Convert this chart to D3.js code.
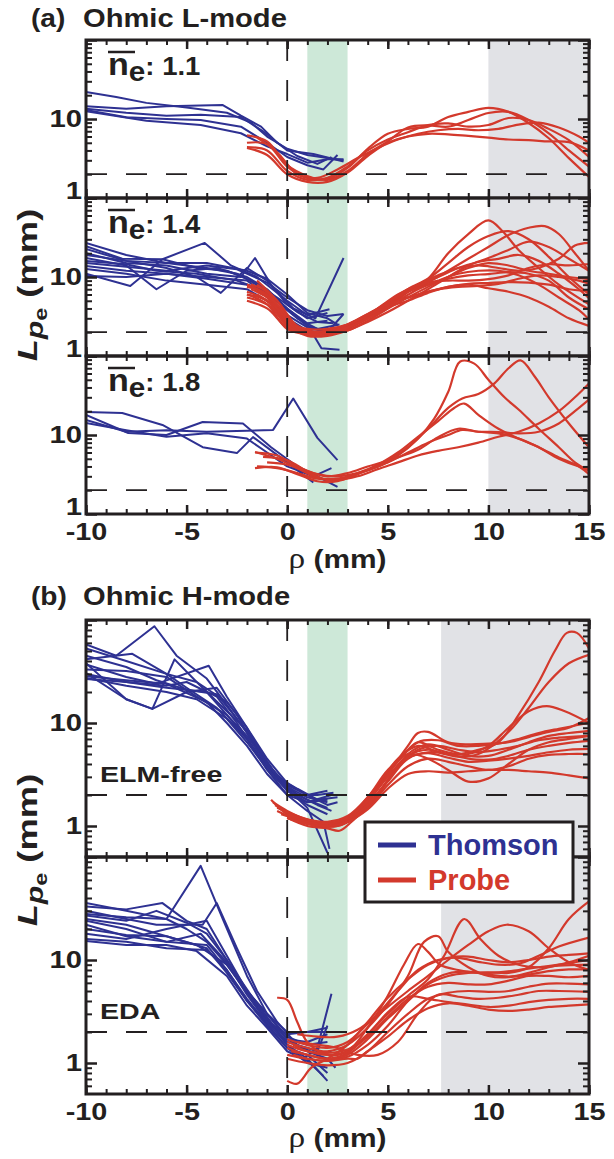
<!DOCTYPE html>
<html>
<head>
<meta charset="utf-8">
<script src="https://cdn.jsdelivr.net/npm/d3@7"></script>
<style>
    body { margin: 0; background: #fff; }
    svg text { font-family: "Liberation Sans", Arial, sans-serif; font-weight: bold; fill: #231f20; }
</style>
</head>
<body>
<div id="chart"></div>
<script>

/* ---------- data: each curve is a list of [rho (mm), Lpe (mm)] ---------- */

const xTicks = [-10, -5, 0, 5, 10, 15]
const greenBand = [1, 3]
const grayStartA = 10
const grayStartB = 7.65
const refLevel = 2
const densities = ['1.1', '1.4', '1.8']
const modesB = ['ELM-free', 'EDA']
const legendLabels = ['Thomson', 'Probe']

// (a) Ohmic L-mode, ne = 1.1
const a1Thomson = [
    [[-10,22],[-8.5,19],[-7,16],[-5,14],[-3,12],[-1.8,9],[-1,6],[0,4.2],[1,3.5],[2,3.2],[2.8,3]],
    [[-10,14.5],[-8,13.5],[-6,14.5],[-3.2,15],[-2.3,11],[-1.3,8],[-0.5,5],[0.5,3.4],[1.5,2.7],[2.2,3.3]],
    [[-10,13.5],[-8,12],[-6,11],[-4.3,11.3],[-2.3,10.6],[-1.2,7],[0,4],[1.3,3.6],[2.8,2.9]],
    [[-10,13],[-8,10.5],[-6,10],[-4.3,9.7],[-2.3,8],[-1,5],[0,3.3],[1,2.6],[1.8,2.3],[2.5,3.5]],
    [[-10,12.5],[-7,9.5],[-4.3,8.4],[-2.3,6.6],[-1,4.5],[0,3.6],[1,2.8],[2,3.1],[2.8,3.1]]
]
const a1Probe = [
    [[-2,6.2],[-1,5.2],[0,2.6],[1,1.9],[2,1.7],[3,2.2],[4,3.6],[5,5.2],[6,7.8],[7,8.3],[8,8],[9,9.7],[10,11.9],[11,12.3],[12,9.7],[13,6.6],[14,4],[15,2.5]],
    [[-2,5],[-1,4.8],[0,2.5],[1,1.8],[2,1.75],[3,2.4],[4,4.2],[5,6.5],[6,7.5],[7,8],[8,10.6],[9,12.3],[10,13.8],[11,12.3],[12,8.9],[13,5.7],[14,3.2],[15,1.85]],
    [[-2,4.4],[-1,4],[0,2.2],[1,1.7],[2,1.8],[3,2.5],[4,4],[5,5.5],[6,6.8],[7,8.4],[8,8.8],[9,8],[10,8.4],[11,10.3],[12,9.7],[13,7.5],[14,5.4],[15,3.3]],
    [[-1.5,5.8],[-0.5,3.8],[0.5,2],[1.5,1.8],[2.5,2.3],[3.5,3.2],[4.5,4.3],[5.5,5.5],[6.5,6.5],[7.5,7.2],[8.5,7.5],[9.5,7.2],[10.5,7.5],[11.5,8.5],[12.5,9],[13.5,7.8],[14.5,6],[15,5]],
    [[-2,4.3],[-1,3.5],[0,2],[1,1.6],[2,1.6],[3,2.1],[4,3.4],[5,5],[6,6],[7,6.5],[8,6.4],[9,6.1],[10,5.8],[11,5.5],[12,5.4],[13,5.2],[14,5.1],[15,4]]
]

// (a) ne = 1.4
const a2Thomson = [
    [[-10,27],[-8,19],[-6,15],[-4,13],[-2.5,11],[-1.5,8],[-0.5,5.5],[0.5,3.6],[1.5,2.7],[2.3,2.6]],
    [[-10,24.6],[-8.2,17],[-6.2,16.8],[-4.1,27],[-2.8,14],[-1.5,10],[0,5],[1,3.3],[2.1,3.9]],
    [[-10,11],[-7.8,7.7],[-6.2,16.8],[-4.5,13],[-3,12],[-1.8,9],[-0.5,5],[0.5,3],[1.5,2.2],[2.6,2.5]],
    [[-10,17.4],[-8,14],[-6.5,7],[-5,12],[-3.5,13],[-2,10],[-1,7],[0,4],[1,2.5],[1.7,1.25],[2.6,1.2]],
    [[-10,22.6],[-8,16],[-6,13],[-4.5,10],[-3.3,6.3],[-2,13],[-1,9],[0,4.5],[1,3],[2,3.5]],
    [[-10,20],[-8,15],[-6,14],[-4,11],[-2.3,10],[-1.6,17.4],[-0.8,8],[0.3,4],[1.4,3],[2.8,17.4]],
    [[-10,13.8],[-8,12],[-6,11],[-4,10],[-2,9],[-1,6],[0,3.3],[1,2.3],[2,2],[2.8,3.4]],
    [[-10,12.6],[-8,11],[-6,9],[-4,8],[-2,7],[-1,5],[0,3],[1,2.1],[2,1.9]],
    [[-10,10.3],[-8,10],[-6,11],[-4,9.5],[-2,8],[-1,6],[0,4],[1,2.6],[2,2.8]],
    [[-10,15],[-8,13.5],[-6,12],[-4,14],[-2.5,12.5],[-1,8.5],[0,5.5],[1,3.8],[2,3.2],[2.8,3.4]],
    [[-10,19],[-8,16],[-6,15],[-4,15],[-2,12],[-1,9.5],[0,6],[1,3.5],[2,3],[2.5,2.5]],
    [[-10,16],[-8,14.5],[-6.5,12],[-4.5,11],[-2.5,9],[-1,6.5],[0,3.8],[1,2.4],[1.8,2.1]]
]
const a2Probe = [
    [[-2,8],[-1,6],[0,3],[1,2],[2,1.9],[3,2.1],[4,2.8],[5,4],[6,6.5],[7,9.5],[8,20],[9,35],[10,52],[10.7,38],[11.5,22],[12.5,13],[13.5,8],[15,4.5]],
    [[-1.8,7],[-1,5.5],[0,2.8],[1,2],[2,2],[3,2.3],[4,3],[5,4.5],[6,7],[7,9.5],[8,15],[9,24],[10,33],[11,38],[12,30],[13,18],[14,10],[15,6]],
    [[-2,6],[-1,5],[0,2.6],[1,1.9],[2,1.9],[3,2.2],[4,3],[5,4.4],[6,6.5],[7,8.5],[8,12],[9,17],[10,24],[11,34],[12,42],[12.8,44],[13.5,35],[14.3,20],[15,12]],
    [[-1.5,8],[-0.5,5],[0.5,2.4],[1.5,2],[2.5,2.1],[3.5,2.7],[4.5,3.7],[5.5,5.5],[6.5,8],[7.5,10.5],[8.5,13],[9.5,14],[10.5,13],[11.5,12],[12.5,13],[13.5,17],[14.3,25],[15,27]],
    [[-2,7.5],[-1,6],[0,2.5],[1,1.8],[2,1.8],[3,2.1],[4,2.7],[5,3.6],[6,5],[7,7],[8,10],[9,14],[10,17.4],[11,22],[12,28],[13,24],[14,17],[15,12]],
    [[-1.5,9],[-0.5,5],[0.5,2.3],[1.5,1.8],[2.5,2],[3.5,2.7],[4.5,4],[5.5,6],[6.5,8],[7.5,10],[8.5,13],[9.5,15.5],[10.5,17],[11.5,19],[12.5,16],[13.5,11],[14.5,7],[15,5.4]],
    [[-2,6],[-1,4.5],[0,2.2],[1,1.9],[2,2],[3,2.4],[4,3.3],[5,4.8],[6,6.5],[7,8],[8,9.5],[9,10.5],[10,10.9],[11,11.5],[12,11],[13,9],[14,5.5],[15,3.9]],
    [[-1.8,8],[-1,6.5],[0,3],[1,2.1],[2,2],[3,2.3],[4,3.1],[5,4.8],[6,7],[7,8.5],[8,9],[9,9],[10,9.4],[11,10.5],[12,13],[13,14.5],[14,14],[15,14.6]],
    [[-2,5],[-1,4],[0,2.3],[1,2],[2,2.1],[3,2.5],[4,3.4],[5,4.6],[6,5.5],[7,6.5],[8,7.5],[9,8.2],[10,8.4],[11,8.6],[12,8.5],[13,8],[14,7],[15,6.6]],
    [[-1.5,7],[-0.5,4.5],[0.5,2.2],[1.5,1.9],[2.5,2.2],[3.5,2.9],[4.5,3.9],[5.5,5],[6.5,6],[7.5,7],[8.5,7.5],[9.5,7.7],[10.5,8.2],[11.5,9.5],[12.5,10.5],[13.5,10],[14.5,9],[15,8.2]],
    [[-2,5.5],[-1,4.5],[0,2.6],[1,2.2],[2,2.2],[3,2.5],[4,3.2],[5,4.2],[6,5],[7,6.3],[8,7.5],[9,8],[10,7.2],[11,6.5],[12,5.5],[13,4.2],[14,3],[15,2.4]],
    [[-1.5,6],[-0.5,4],[0.5,2.1],[1.5,1.8],[2.5,2],[3.5,2.6],[4.5,3.5],[5.5,5],[6.5,7],[7.5,9],[8.5,11],[9.5,12],[10.5,12],[11.5,10.5],[12.5,8],[13.5,5.5],[14.5,3.8],[15,2.9]],
    [[-2,6.5],[-1,5],[0,2.4],[1,1.9],[2,1.95],[3,2.3],[4,3],[5,4],[6,5.5],[7,7.5],[8,10],[9,13],[10,15],[11,14],[12,12],[13,11],[14,10],[15,9.4]]
]

// (a) ne = 1.8
const a3Thomson = [
    [[-10,19.5],[-8.2,19],[-6.2,13.4],[-4.2,7],[-2.5,5.9],[-1.7,9.4],[0,4.5],[1.3,2.5]],
    [[-10,18],[-7.9,10.6],[-6,10],[-4.2,14.6],[-2.2,14],[-0.8,7],[0.5,4],[1.5,3],[2.5,2.2]],
    [[-10,15.5],[-8,11],[-6,11.5],[-4,11],[-2,11.3],[-0.7,11.6],[0.3,29],[1.5,9.2],[2.5,4.8]],
    [[-10,14.2],[-8,11.5],[-6,9.5],[-4,10.5],[-2,9],[-1,6],[0,4],[1.3,3],[2.2,3.8]]
]
const a3Probe = [
    [[-1.6,6],[-0.5,5.5],[0.5,4],[1.5,3.2],[2.5,3],[3.5,3.3],[4.5,4],[5.5,5.5],[6.5,9],[7.3,16],[8,35],[8.6,85],[9.3,80],[10,50],[10.8,30],[11.5,21],[12.5,12],[13.5,7],[14.3,4.5],[15,3.5]],
    [[-1.2,5.3],[0,4.8],[1,3.5],[2,3],[3,3.3],[4,4],[5,4.8],[6,7],[7,12],[8,22],[8.7,29],[9.5,33],[10.3,45],[11,70],[11.6,88],[12.3,55],[13,30],[14,14],[15,7]],
    [[-1.5,4],[-0.5,3.8],[0.5,3.3],[1.5,2.8],[2.5,2.7],[3.5,3],[4.5,3.7],[5.5,4.5],[6.5,5.5],[7.5,6.3],[8.5,7],[9.5,8],[10.5,9.5],[11.5,11],[12.5,14],[13.5,20],[14.3,30],[15,45]],
    [[-1.6,6.1],[-0.5,5],[0.5,3.8],[1.5,2.9],[2.5,2.8],[3.5,3.3],[4.5,4.2],[5.5,6],[6.5,9.5],[7.5,15],[8.3,22],[8.8,25],[9.5,18],[10.5,12],[11.5,9],[12.5,7],[13.5,5],[14.5,4],[15,3.8]],
    [[-1,4.5],[0,4.2],[1,3.4],[2,2.7],[3,2.9],[4,3.6],[5,4.5],[6,6],[7,8],[8,10],[8.7,11.6],[9.5,11],[10.5,10.9],[11.5,10.5],[12.5,11],[13.5,14],[14.3,20],[15,28]],
    [[-1.6,3.8],[-0.5,3.9],[0.5,3.2],[1.5,2.6],[2.5,2.6],[3.5,3.2],[4.5,4],[5.5,5.2],[6.5,6.5],[7.5,9.4],[8.5,12],[9.5,11],[10.5,10.5],[11.5,9],[12.5,7],[13.5,5.2],[14.5,4],[15,3.2]]
]

// (b) Ohmic H-mode, ELM-free
const b1Thomson = [
    [[-10,58],[-8.5,45],[-6.6,87],[-5.5,45],[-4,27],[-3,15],[-2,8],[-1,4],[0,2.5],[1,2],[2,1.6],[2.5,1.7]],
    [[-10,53],[-8,40],[-6,30],[-4.5,25],[-3,16],[-2,9],[-1,4.5],[0,2.6],[1,2],[2,2.2]],
    [[-10,41.6],[-7.7,47],[-6,30],[-5,22],[-3.5,14],[-2,7],[-1,3.8],[0,2.3],[1,1.8],[2,1.5]],
    [[-10,38],[-8,17],[-6.7,13.7],[-5.6,41.5],[-4.5,25],[-3,13],[-2,8.5],[-1,4.2],[0,2.3],[1,1.5],[2,0.55]],
    [[-10,37],[-8,28],[-6.5,24],[-3.9,36],[-3,18],[-2,9],[-1,4],[0,2.2],[1,1.7],[2.2,2]],
    [[-10,30.6],[-8,17],[-6.7,13.7],[-5,20],[-3.5,22],[-2.5,12],[-1.5,5.5],[-0.5,3],[0.5,2],[1.5,1.6],[2.2,1.4]],
    [[-10,29.9],[-8,25],[-6,22],[-4,20],[-3,12],[-2,7],[-1,3.5],[0,2],[1,1.4],[1.8,1.1],[2.1,0.6]],
    [[-10,28.5],[-8,26],[-6,24],[-4,16],[-3,10],[-2,6],[-1,3.2],[0,2],[1,1.7],[2,1.8]],
    [[-10,27.3],[-8,23],[-6,20],[-4.5,17],[-3,11],[-2,6.5],[-1,3.6],[0,2.2],[1,1.6],[2,1.3]],
    [[-10,26.7],[-8,25],[-6,23],[-5,25],[-3.5,18],[-2.5,10],[-1.5,5],[-0.5,2.8],[0.5,2],[1.5,2],[2.3,2.1]],
    [[-10,45],[-8,35],[-6.5,26],[-5,21],[-3.5,19],[-2.5,11],[-1.5,6],[-0.5,3],[0.5,2.3],[1.5,1.8],[2.5,1.9]],
    [[-10,33],[-8,32],[-6,28],[-4.5,18],[-3,12],[-2,7.5],[-1,4],[0,2.4],[1,1.9],[2,1.7]]
]
const b1Probe = [
    [[-0.7,1.7],[0,1.4],[1,1.15],[2,1.05],[3,1.2],[4,1.9],[5,3.3],[6,5.5],[6.5,6.5],[7.5,5.5],[8.5,5],[9.5,5.5],[10.5,6.5],[11.5,12],[12.5,25],[13.3,50],[13.9,75],[14.4,75],[15,53]],
    [[-0.5,1.5],[0.5,1.25],[1.5,1.1],[2.5,1.1],[3.5,1.4],[4.5,2.4],[5.5,4.5],[6.5,6],[7.5,5.2],[8.5,4.7],[9.5,5],[10.5,6.7],[11.2,9],[12,14],[13,25],[14,38],[15,46]],
    [[0,1.3],[1,1.15],[2,1.05],[3,1.2],[4,1.8],[5,3],[6,4.8],[7,5.5],[8,5],[9,5],[10,6],[11,9],[12,13],[12.9,14.6],[13.8,13],[15,10]],
    [[-0.8,1.8],[0,1.3],[1,1.1],[2,1.0],[3,1.15],[4,1.7],[5,3.2],[6,6],[6.5,8],[7,8.2],[8,6.5],[9,6.2],[10,6.3],[11,6.5],[12,7.3],[13,8.2],[14,9],[15,11.2]],
    [[-0.6,1.6],[0.5,1.2],[1.5,1.05],[2.5,1.0],[3.5,1.3],[4.5,2.3],[5.5,4.2],[6.5,6.5],[7.5,6.8],[8.5,6],[9.5,6],[10.5,6.3],[11.5,7],[12.5,8],[13.5,8.8],[15,10]],
    [[0,1.2],[1,1.0],[2,0.95],[2.6,0.9],[3.2,1.1],[4,1.6],[5,2.8],[6,5],[7,6.2],[8,5.5],[9,4.8],[10,4.8],[11,5.5],[12,6.5],[13,7.5],[14,8],[15,8.4]],
    [[-0.5,1.4],[0.5,1.15],[1.5,1.0],[2.5,1.0],[3.5,1.25],[4.5,2],[5.5,3.8],[6.5,5.5],[7.5,6],[8.5,5.5],[9.5,5.2],[10.5,5.5],[11.5,6],[12.5,6.8],[13.5,7.2],[15,7.5]],
    [[0,1.2],[1,1.05],[2,1.0],[3,1.15],[4,1.6],[5,2.7],[6,4.5],[7,5.2],[8,5],[9,4.5],[10,4.4],[11,4.8],[12,5.5],[13,6],[14,6.4],[15,6.7]],
    [[-0.3,1.3],[1,1.1],[2,1.05],[3,1.2],[4,1.75],[5,3],[6,4.6],[7,5.1],[8,4.6],[9,4.2],[10,4.3],[11,4.5],[12,4.8],[13,5.2],[14,5.5],[15,5.6]],
    [[0,1.25],[1,1.1],[2,1.0],[3,1.1],[4,1.5],[5,2.5],[6,3.8],[7,4.5],[8,4.2],[9,3.8],[10,3.5],[11,3.8],[12,4.5],[13,4.9],[14,5],[15,5]],
    [[0,1.2],[1,1.05],[2,1.0],[3,1.1],[4,1.45],[5,2.3],[6,3.2],[7,3.4],[8,3.3],[9,3.4],[10,3.5],[11,3.5],[12,3.4],[13,3.3],[14,3.1],[15,2.9]],
    [[0,1.3],[1,1.15],[2,1.1],[3,1.25],[4,1.9],[5,3.5],[6,5],[7,4.5],[8,3.5],[9,2.7],[10,2.9],[11,4],[12,5.5],[13,6.5],[14,7],[15,7.5]]
]

// (b) EDA
const b2Thomson = [
    [[-10,35.7],[-8,30],[-6,25],[-4.3,82],[-3.2,25],[-2,7],[-1,3],[0,1.7],[1,1.3],[2,1.1],[2.4,0.9]],
    [[-10,33],[-8,31],[-6.2,35.7],[-5,24],[-4,20],[-3,10],[-2,5],[-1,3],[0,1.8],[1,1.5],[2,1.6]],
    [[-10,30],[-8,25],[-6.5,22],[-4.2,22],[-3.5,35.7],[-2.5,13],[-1.5,5],[-0.5,2.5],[0.5,1.5],[1.5,1.2],[2.2,1.3]],
    [[-10,28],[-8,26],[-6,25],[-5,20],[-4,15],[-3,9],[-2,5],[-1,2.8],[0,1.5],[1,1.1],[2,0.67]],
    [[-10,25],[-8,22],[-6,17],[-4.5,14],[-3,9],[-2,4.8],[-1,2.6],[0,1.6],[1,1.4],[1.5,1.3],[2,2.3]],
    [[-10,22],[-8,17],[-6,15],[-4,14],[-3,8],[-2,4.2],[-1,2.4],[0,1.4],[1,1.2],[2,0.8]],
    [[-10,20],[-8,17.5],[-6,17],[-4,13],[-3,7.5],[-2,4],[-1,2.5],[0,1.9],[1,2],[2,2.2]],
    [[-10,18],[-8,16],[-6,20],[-4,24],[-3,11],[-2,5],[-1,3],[0,2],[1,2],[2.2,2]],
    [[-10,16],[-8,15],[-6,13],[-4,12.5],[-3,8],[-2,4],[-1,2.3],[0,1.4],[1,1],[2,0.9]],
    [[-10,15.3],[-8,14],[-6,14],[-4.5,12.2],[-3,7],[-2,3.6],[-1,2.2],[0,1.3],[1,1.05],[1.8,0.75]],
    [[-10,27],[-8,24],[-6.5,30],[-5,23],[-4,18],[-3,10],[-2,5.2],[-1,2.7],[0,1.7],[1,1.6],[2,1.9]],
    [[-10,24],[-8,20],[-6,15],[-4.3,18],[-3,9.5],[-2,4.6],[-1,2.5],[0,1.5],[0.8,1.1],[1.5,1.4],[2.2,4.7]]
]
const b2Probe = [
    [[-0.5,4.3],[0,4.1],[0.5,2.5],[1,1.6],[2,1.2],[3,1.3],[4,2.2],[5,4.5],[5.8,9],[6.5,14.3],[7,12],[7.6,9],[8.5,8],[9.5,7.5],[10.5,7.6],[11.5,8],[12.5,8.5],[13.5,9],[15,10]],
    [[0,1.6],[1,1.4],[2,1.3],[3,1.5],[4,2.2],[5,3.7],[6,7],[6.8,15],[7.5,17],[8,12],[9,8.5],[10,7],[11,6.8],[12,7.5],[13,8.5],[14,9.5],[15,11]],
    [[0.2,1.3],[1,1.2],[2,1.1],[3,1.25],[4,1.9],[5,3],[6,4.5],[7,6.5],[7.8,11],[8.8,25],[9.6,16],[10.5,11],[11.5,9],[12.5,8.5],[13.5,8.8],[15,9]],
    [[0,1.7],[1,1.5],[2,1.4],[3,1.6],[4,2.4],[5,3.5],[6,5],[7,7],[8,10],[9,14],[10,19],[10.9,22],[12,19],[13,13],[14,9.5],[15,8]],
    [[0,1.2],[1,1.1],[2,1.05],[3,1.2],[4,1.7],[5,2.7],[6,4],[7,5.8],[8,7],[9,7.5],[10,7.6],[11,7.5],[12,8.5],[13,13],[14,25],[15,37]],
    [[0.5,1.9],[1.5,1.8],[2.5,1.8],[3.5,2.1],[4.5,3],[5.5,5],[6.5,8],[7.5,10],[8.5,10.5],[9.5,9.6],[10.5,9],[11.5,9.2],[12.5,11],[13.5,13.5],[15,16.5]],
    [[0,0.67],[0.5,0.63],[1.2,0.9],[2,1.1],[3,1.5],[4,2.5],[5,4.3],[6,6.5],[7,9],[8,10.5],[9,10.8],[10,10],[11,9.5],[12,10],[13,10.8],[14,11.2],[15,11.6]],
    [[0,1.4],[1,1.2],[2,1.1],[3,1.15],[4,1.5],[5,2.3],[6,4],[7,6],[8,7.4],[9,7.7],[10,7.2],[11,6.9],[12,7.2],[13,7.8],[14,8.1],[15,8.1]],
    [[0.3,1.5],[1,1.3],[2,1.2],[3,1.3],[4,1.8],[5,2.8],[6,4.2],[7,5.5],[8,6],[9,5.8],[10,5.8],[11,6.3],[12,7],[13,7],[14,6.8],[15,7]],
    [[0,1.1],[1,1.0],[2,0.95],[3,1.0],[4,1.3],[5,2.0],[6,3],[7,4.2],[8,4.8],[9,5],[10,4.9],[11,5],[12,5.5],[13,5.9],[14,5.9],[15,5.8]],
    [[0.5,1.6],[1.5,1.5],[2.5,1.4],[3.5,1.2],[4.5,1.2],[5.5,1.6],[6.5,3],[7.5,4.6],[8.5,4.4],[9.5,4.2],[10.5,4.3],[11.5,4.6],[12.5,5],[13.5,5],[15,4.9]],
    [[0,1.5],[1,1.3],[2,1.25],[3,1.35],[4,1.9],[5,3.1],[6,4.4],[7,4.2],[8,3.9],[9,3.7],[10,3.5],[11,3.6],[12,3.9],[13,4.1],[14,4.2],[15,4.2]],
    [[0.3,1.2],[1,1.1],[2,1.05],[3,1.1],[3.5,1.1],[4,1.3],[5,1.8],[6,2.6],[7,3.4],[8,3.8],[9,3.6],[10,3.3],[11,3.2],[12,3.3],[13,3.5],[14,3.6],[15,3.7]]
]


/* ---------- drawing ---------- */

const BLUE = '#2e3192', RED = '#d3392c', INK = '#231f20'
const GREEN_FILL = '#cde8d8', GRAY_FILL = '#e1e2e6'

let svg = d3.select('#chart').append('svg')
    .attr('width', 614)
    .attr('height', 1159)

let x = d3.scaleLinear().domain([-10, 15]).range([86, 589])

// stretch bold text horizontally, the original lettering is wide
function widen(sel, k) {
    sel.each(function () {
        let len = this.getComputedTextLength()
        d3.select(this).attr('textLength', len * k).attr('lengthAdjust', 'spacingAndGlyphs')
    })
}

function logMinor(domain) {
    let out = []
    for (let e = -1; e <= 2; e++) {
        for (let k = 2; k <= 9; k++) {
            let v = k * Math.pow(10, e)
            if (v > domain[0] && v < domain[1]) out.push(v)
        }
    }
    return out
}

function drawPanel(cfg) {
    let y = d3.scaleLog().domain(cfg.domain).range([cfg.bottom, cfg.top])
    let g = svg.append('g').attr('class', 'panel-' + cfg.name)

    svg.append('clipPath').attr('id', 'clip-' + cfg.name)
        .append('rect')
        .attr('x', x(-10)).attr('y', cfg.top)
        .attr('width', x(15) - x(-10)).attr('height', cfg.bottom - cfg.top)

    let plot = g.append('g').attr('clip-path', `url(#clip-${cfg.name})`)

    // shaded regions
    plot.append('rect')
        .attr('x', x(greenBand[0])).attr('width', x(greenBand[1]) - x(greenBand[0]))
        .attr('y', cfg.top).attr('height', cfg.bottom - cfg.top)
        .attr('fill', GREEN_FILL)
    plot.append('rect')
        .attr('x', x(cfg.grayFrom)).attr('width', x(15) - x(cfg.grayFrom))
        .attr('y', cfg.top).attr('height', cfg.bottom - cfg.top)
        .attr('fill', GRAY_FILL)

    // profiles
    let straight = d3.line().x(d => x(d[0])).y(d => y(d[1]))
    let smooth = d3.line().x(d => x(d[0])).y(d => y(d[1])).curve(d3.curveCatmullRom.alpha(0.5))

    plot.selectAll('path.thomson').data(cfg.thomson).join('path')
        .attr('class', 'thomson')
        .attr('d', straight)
        .attr('fill', 'none').attr('stroke', BLUE).attr('stroke-width', 2)
        .attr('stroke-linejoin', 'round')

    plot.selectAll('path.probe').data(cfg.probe).join('path')
        .attr('class', 'probe')
        .attr('d', smooth)
        .attr('fill', 'none').attr('stroke', RED).attr('stroke-width', 2.2)
        .attr('stroke-linejoin', 'round')

    // dashed references
    plot.append('line')
        .attr('x1', x(-10)).attr('x2', x(15))
        .attr('y1', y(refLevel)).attr('y2', y(refLevel))
        .attr('stroke', INK).attr('stroke-width', 1.8).attr('stroke-dasharray', '21,19')
    plot.append('line')
        .attr('x1', x(0)).attr('x2', x(0))
        .attr('y1', cfg.top).attr('y2', cfg.bottom)
        .attr('stroke', INK).attr('stroke-width', 1.8).attr('stroke-dasharray', '21,19')

    // ticks
    let minorX = d3.range(-10, 16)
    let tickStyle = (sel, w) => {
        sel.select('.domain').remove()
        sel.selectAll('.tick line').attr('stroke', INK).attr('stroke-width', w)
    }

    g.append('g').attr('transform', `translate(0,${cfg.top})`)
        .call(d3.axisTop(x).tickValues(minorX).tickSize(-5).tickFormat(''))
        .call(s => tickStyle(s, 2))
    g.append('g').attr('transform', `translate(0,${cfg.top})`)
        .call(d3.axisTop(x).tickValues(xTicks).tickSize(-9).tickFormat(''))
        .call(s => tickStyle(s, 2.5))
    g.append('g').attr('transform', `translate(0,${cfg.bottom})`)
        .call(d3.axisBottom(x).tickValues(minorX).tickSize(-5).tickFormat(''))
        .call(s => tickStyle(s, 2))
    let xb = g.append('g').attr('transform', `translate(0,${cfg.bottom})`)
        .call(d3.axisBottom(x).tickValues(xTicks).tickSize(-9).tickPadding(9)
            .tickFormat(d => cfg.xLabels ? String(d) : ''))
        .call(s => tickStyle(s, 2.5))
    xb.selectAll('text').attr('font-size', 24).attr('fill', INK).call(widen, 1.2)

    let minorY = logMinor(cfg.domain)
    let majorY = [1, 10, 100].filter(v => v >= cfg.domain[0] && v <= cfg.domain[1])

    g.append('g').attr('transform', `translate(${x(-10)},0)`)
        .call(d3.axisLeft(y).tickValues(minorY).tickSize(-6).tickFormat(''))
        .call(s => tickStyle(s, 2))
    let yl = g.append('g').attr('transform', `translate(${x(-10)},0)`)
        .call(d3.axisLeft(y).tickValues(majorY).tickSize(-11).tickPadding(4)
            .tickFormat(d => d < 100 ? String(d) : ''))
        .call(s => tickStyle(s, 2.5))
    yl.selectAll('text').attr('font-size', 24).attr('fill', INK).call(widen, 1.22)
    // the label sitting on the bottom edge is nudged up, as in the original
    yl.selectAll('.tick').filter(d => d === cfg.domain[0]).select('text').attr('y', -7)

    g.append('g').attr('transform', `translate(${x(15)},0)`)
        .call(d3.axisRight(y).tickValues(minorY).tickSize(-6).tickFormat(''))
        .call(s => tickStyle(s, 2))
    g.append('g').attr('transform', `translate(${x(15)},0)`)
        .call(d3.axisRight(y).tickValues(majorY).tickSize(-11).tickFormat(''))
        .call(s => tickStyle(s, 2.5))

    // frame
    g.append('rect')
        .attr('x', x(-10)).attr('y', cfg.top)
        .attr('width', x(15) - x(-10)).attr('height', cfg.bottom - cfg.top)
        .attr('fill', 'none').attr('stroke', INK).attr('stroke-width', 3)

    // in-panel label
    if (cfg.density) {
        let t = g.append('text').attr('x', x(-10) + 22).attr('y', cfg.top + 35)
        t.append('tspan').attr('font-size', 31).text('n')
        t.append('tspan').attr('font-size', 27).attr('dy', 6).text('e')
        t.append('tspan').attr('font-size', 25).attr('dy', -6).text(': ' + cfg.density)
        widen(t, 1.1)
        g.append('line')
            .attr('x1', x(-10) + 22).attr('x2', x(-10) + 49)
            .attr('y1', cfg.top + 12).attr('y2', cfg.top + 12)
            .attr('stroke', INK).attr('stroke-width', 2.5)
    }
    if (cfg.mode) {
        g.append('text')
            .attr('x', x(-10) + 14).attr('y', y(refLevel) - 13)
            .attr('font-size', 22)
            .text(cfg.mode)
            .call(widen, 1.3)
    }
    return y
}

// (a) Ohmic L-mode
drawPanel({name: 'a1', top: 40, bottom: 198, domain: [1, 100], grayFrom: grayStartA,
    thomson: a1Thomson, probe: a1Probe, density: densities[0], xLabels: false})
drawPanel({name: 'a2', top: 198, bottom: 356, domain: [1, 100], grayFrom: grayStartA,
    thomson: a2Thomson, probe: a2Probe, density: densities[1], xLabels: false})
drawPanel({name: 'a3', top: 356, bottom: 514, domain: [1, 100], grayFrom: grayStartA,
    thomson: a3Thomson, probe: a3Probe, density: densities[2], xLabels: true})

// (b) Ohmic H-mode
drawPanel({name: 'b1', top: 620, bottom: 857, domain: [0.5, 100], grayFrom: grayStartB,
    thomson: b1Thomson, probe: b1Probe, mode: modesB[0], xLabels: false})
drawPanel({name: 'b2', top: 857, bottom: 1094, domain: [0.5, 100], grayFrom: grayStartB,
    thomson: b2Thomson, probe: b2Probe, mode: modesB[1], xLabels: true})

// panel titles
function title(letter, text, baseline) {
    svg.append('text').attr('x', 31).attr('y', baseline).attr('font-size', 26).text(letter).call(widen, 1.08)
    svg.append('text').attr('x', 83).attr('y', baseline).attr('font-size', 26).text(text).call(widen, 1.12)
}
title('(a)', 'Ohmic L-mode', 27)
title('(b)', 'Ohmic H-mode', 605)

// x axis titles
function xTitle(baseline) {
    let t = svg.append('text').attr('x', (x(-10) + x(15)) / 2).attr('y', baseline)
        .attr('text-anchor', 'middle')
    t.append('tspan').attr('font-family', 'Liberation Serif').attr('font-weight', 'normal')
        .attr('font-size', 29).text('ρ')
    t.append('tspan').attr('font-size', 26).text(' (mm)')
    widen(t, 1.15)
}
xTitle(568)
xTitle(1147)

// y axis titles
function yTitle(cx, cy) {
    let t = svg.append('text')
        .attr('transform', `translate(${cx},${cy}) rotate(-90)`)
        .attr('text-anchor', 'middle')
        .attr('font-size', 28)
    t.append('tspan').attr('font-style', 'italic').text('L')
    t.append('tspan').attr('font-style', 'italic').attr('font-size', 23).attr('dy', 6).text('p')
    t.append('tspan').attr('font-size', 18).attr('dy', 4).text('e')
    t.append('tspan').attr('dy', -10).text(' (mm)')
    widen(t, 1.3)
}
yTitle(37, 285)
yTitle(37, 850)

// legend
let legend = svg.append('g').attr('class', 'legend')
legend.append('rect')
    .attr('x', 365).attr('y', 822).attr('width', 208).attr('height', 80)
    .attr('fill', '#fff').attr('stroke', INK).attr('stroke-width', 3)
legend.selectAll('line.key').data(legendLabels).join('line')
    .attr('class', 'key')
    .attr('x1', 378).attr('x2', 416)
    .attr('y1', (d, i) => 845 + i * 35).attr('y2', (d, i) => 845 + i * 35)
    .attr('stroke', (d, i) => i === 0 ? BLUE : RED).attr('stroke-width', 5)
legend.selectAll('text.key').data(legendLabels).join('text')
    .attr('class', 'key')
    .attr('x', 428).attr('y', (d, i) => 855 + i * 35)
    .attr('font-size', 29)
    .style('fill', (d, i) => i === 0 ? BLUE : RED)
    .text(d => d)

</script>
</body>
</html>
